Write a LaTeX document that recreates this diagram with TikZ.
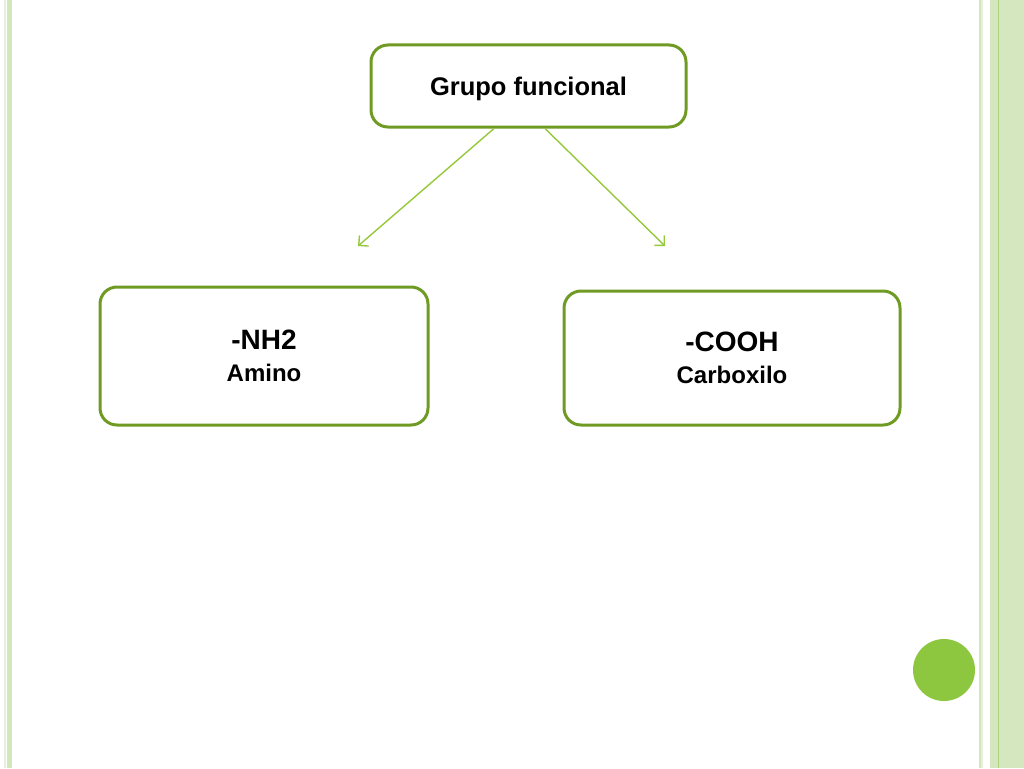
\documentclass[tikz,border=0pt]{standalone}
\usepackage{fontspec}
\setmainfont{Liberation Sans}
\usetikzlibrary{arrows.meta}
\definecolor{boxline}{HTML}{6F9B24}
\definecolor{arrline}{HTML}{95C93A}
\definecolor{stripeA}{HTML}{D3E6BE}
\definecolor{stripeB}{HTML}{E4F0D7}
\definecolor{stripeC}{HTML}{D4E7BF}
\definecolor{stripeD}{HTML}{ADD27A}
\definecolor{dotgreen}{HTML}{8DC63F}
\tikzset{
  box/.style={draw=boxline, line width=3pt, rounded corners=17pt, fill=white, align=center, font=\bfseries, inner sep=0pt},
  arr/.style={draw=arrline, line width=1.4pt, -{Straight Barb[length=7pt,width=14pt,line width=1.4pt]}},
}
\begin{document}
\begin{tikzpicture}[x=1pt,y=-1pt]
\useasboundingbox (0,0) rectangle (1024,768);
\fill[white] (0,0) rectangle (1024,768);
% left stripes
\fill[stripeB] (4,0) rectangle (5.5,768);
\fill[stripeA] (7,0) rectangle (12,768);
% right stripes
\fill[stripeA] (979,0) rectangle (981,768);
\fill[stripeB] (981,0) rectangle (983,768);
\fill[stripeC] (990,0) rectangle (1024,768);
\fill[stripeD] (997.5,0) rectangle (999,768);
% boxes
\node[box, minimum width=315pt, minimum height=82pt] (top) at (528.5,86) {\fontsize{25.5}{30}\selectfont\raisebox{-3pt}[\height][\depth]{Grupo funcional}};
\node[box, minimum width=328pt, minimum height=138pt] (nh2) at (264,356) {\fontsize{28}{30}\selectfont -NH2\\[14pt]\fontsize{24}{30}\selectfont Amino};
\node[box, minimum width=336pt, minimum height=134pt] (cooh) at (732,358) {\fontsize{28}{30}\selectfont -COOH\\[14pt]\fontsize{24}{30}\selectfont Carboxilo};
% arrows
\coordinate (e1) at (358,246);
\coordinate (e2) at (665,246);
\draw[arr] ([xshift=-34.5pt]top.south) -- (e1);
\draw[arr] ([xshift=16.5pt]top.south) -- (e2);
% dot
\node[circle, fill=dotgreen, minimum size=62pt, inner sep=0pt] (dot) at (944,670) {};
\end{tikzpicture}
\end{document}
